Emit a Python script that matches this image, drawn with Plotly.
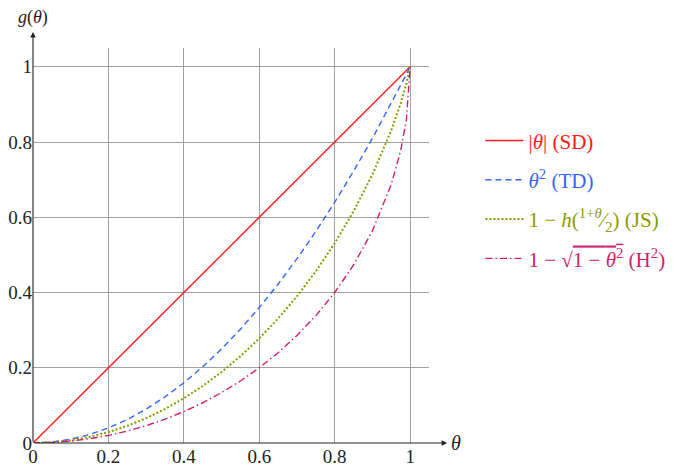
import plotly.graph_objects as go

# values
theta = [0, 0.05, 0.1, 0.15, 0.2, 0.25, 0.3, 0.35, 0.4, 0.45, 0.5, 0.55,
         0.6, 0.65, 0.7, 0.75, 0.8, 0.85, 0.9, 0.95, 0.975, 0.99, 1.0]
sd = [0, 0.05, 0.1, 0.15, 0.2, 0.25, 0.3, 0.35, 0.4, 0.45, 0.5, 0.55,
      0.6, 0.65, 0.7, 0.75, 0.8, 0.85, 0.9, 0.95, 0.975, 0.99, 1.0]
td = [0, 0.0025, 0.01, 0.0225, 0.04, 0.0625, 0.09, 0.1225, 0.16, 0.2025, 0.25, 0.3025,
      0.36, 0.4225, 0.49, 0.5625, 0.64, 0.7225, 0.81, 0.9025, 0.951, 0.980, 1.0]
js = [0, 0.0018, 0.0072, 0.0163, 0.0291, 0.0456, 0.0659, 0.0903, 0.1187, 0.1515, 0.1887, 0.2308,
      0.2781, 0.3310, 0.3902, 0.4564, 0.5310, 0.6157, 0.7136, 0.8313, 0.9031, 0.9546, 1.0]
h2 = [0, 0.0013, 0.0050, 0.0113, 0.0202, 0.0318, 0.0461, 0.0633, 0.0835, 0.1070, 0.1340, 0.1648,
      0.2000, 0.2401, 0.2859, 0.3386, 0.4000, 0.4732, 0.5641, 0.6878, 0.7778, 0.8589, 1.0]

tick_vals = [0, 0.2, 0.4, 0.6, 0.8, 1]
tick_text = ["0", "0.2", "0.4", "0.6", "0.8", "1"]

series = [
    ("|<i>θ</i>| (SD)", sd, "#ff1a1a", "solid", 1.4),
    ("<i>θ</i><sup>2</sup> (TD)", td, "#3366ff", "6px,4px", 1.4),
    ("1 − <i>h</i>(<sup>1+<i>θ</i></sup>⁄<sub>2</sub>) (JS)", js, "#8c9a00", "2px,2px", 2.0),
    ("1 − √<span style=\"text-decoration:overline\">1 − <i>θ</i><sup>2</sup></span> (H<sup>2</sup>)",
     h2, "#d0206e", "7px,3px,1.5px,3px", 1.4),
]

FONT = "Liberation Serif"

fig = go.Figure()
for i, (name, ys, col, dash, w) in enumerate(series):
    fig.add_trace(go.Scatter(
        x=theta, y=ys, mode="lines",
        name=f'<span style="color:{col}">{name}</span>',
        line=dict(color=col, dash=dash, width=w),
        legendgroup=f"g{i}",
    ))

axis_common = dict(
    tickvals=tick_vals, ticktext=tick_text,
    showgrid=True, gridcolor="#a0a0a0", gridwidth=1,
    zeroline=False, showline=False, ticks="", automargin=False,
    tickfont=dict(family=FONT, size=19, color="#222"),
)

fig.update_layout(
    width=677, height=461,
    margin=dict(l=25, r=256, t=40, b=26, autoexpand=False),
    paper_bgcolor="white", plot_bgcolor="white",
    xaxis=dict(range=[0, 1.05], **axis_common),
    yaxis=dict(range=[0, 1.05], **axis_common),
    font=dict(family=FONT, size=19),
    legend=dict(
        x=1.13, y=0.817, xanchor="left", yanchor="top",
        bgcolor="rgba(0,0,0,0)", tracegroupgap=9, itemwidth=38,
        font=dict(family=FONT, size=21),
    ),
)

# axis lines with arrow tips
fig.add_annotation(x=1.0457, y=0, xref="paper", yref="paper", ax=-414, ay=0,
                   axref="pixel", ayref="pixel", text="", showarrow=True,
                   arrowhead=2, arrowsize=1, arrowwidth=1.1, arrowcolor="#222")
fig.add_annotation(x=0, y=1.0405, xref="paper", yref="paper", ax=0, ay=411,
                   axref="pixel", ayref="pixel", text="", showarrow=True,
                   arrowhead=2, arrowsize=1, arrowwidth=1.1, arrowcolor="#222")
fig.add_annotation(x=1.05, y=0, xref="paper", yref="paper", text="<i>θ</i>",
                   showarrow=False, xanchor="left", yanchor="middle",
                   font=dict(family=FONT, size=20, color="#222"))
fig.add_annotation(x=0, y=1.078, xref="paper", yref="paper", text="<i>g</i>(<i>θ</i>)",
                   showarrow=False, xanchor="center", yanchor="middle",
                   font=dict(family=FONT, size=18, color="#222"))

fig.write_html("out.html")
